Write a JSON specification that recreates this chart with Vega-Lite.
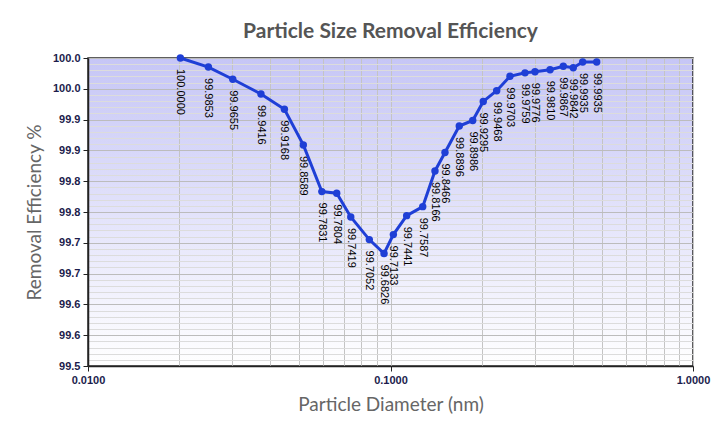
{
  "$schema": "https://vega.github.io/schema/vega-lite/v6.json",
  "width": 605,
  "height": 308,
  "autosize": {"type": "none"},
  "padding": {"left": 88, "top": 58, "right": 24, "bottom": 56},
  "title": {"text": "Particle Size Removal Efficiency", "font": "Lato", "fontSize": 21, "fontWeight": "bold", "color": "#555555", "anchor": "middle", "offset": 10},
  "config": {
    "view": {
      "fill": {"gradient": "linear", "x1": 0, "y1": 0, "x2": 0, "y2": 1, "stops": [{"offset": 0, "color": "#c6c6f6"}, {"offset": 1, "color": "#ffffff"}]},
      "stroke": "#2a2a2a",
      "strokeWidth": 1.5
    },
    "axis": {
      "labelFont": "Liberation Sans",
      "labelFontWeight": "bold",
      "labelFontSize": 11,
      "labelColor": "#1c1c4c",
      "labelFlush": false,
      "tickColor": "#222222",
      "domainColor": "#222222",
      "domainWidth": 1.5,
      "tickSize": 5,
      "titleFont": "Lato",
      "titleFontSize": 19,
      "titleColor": "#666666",
      "titleFontWeight": "normal"
    }
  },
  "data": {
    "values": [
      {"d": 0.0202, "eff": 100.0},
      {"d": 0.025, "eff": 99.9853},
      {"d": 0.0301, "eff": 99.9655},
      {"d": 0.0373, "eff": 99.9416},
      {"d": 0.0446, "eff": 99.9168},
      {"d": 0.0515, "eff": 99.8589},
      {"d": 0.0593, "eff": 99.7831},
      {"d": 0.0664, "eff": 99.7804},
      {"d": 0.0739, "eff": 99.7419},
      {"d": 0.0851, "eff": 99.7052},
      {"d": 0.0952, "eff": 99.6826},
      {"d": 0.1022, "eff": 99.7133},
      {"d": 0.1131, "eff": 99.7441},
      {"d": 0.1278, "eff": 99.7587},
      {"d": 0.1403, "eff": 99.8166},
      {"d": 0.1514, "eff": 99.8466},
      {"d": 0.1688, "eff": 99.8896},
      {"d": 0.187, "eff": 99.8986},
      {"d": 0.2026, "eff": 99.9295},
      {"d": 0.2244, "eff": 99.9468},
      {"d": 0.2483, "eff": 99.9703},
      {"d": 0.2784, "eff": 99.9759},
      {"d": 0.3004, "eff": 99.9776},
      {"d": 0.3369, "eff": 99.981},
      {"d": 0.3726, "eff": 99.9867},
      {"d": 0.402, "eff": 99.9842},
      {"d": 0.4318, "eff": 99.9935},
      {"d": 0.4805, "eff": 99.9935}
    ]
  },
  "layer": [
    {
      "mark": {"type": "text", "angle": 90, "align": "left", "baseline": "middle", "dx": 11, "font": "Liberation Sans", "fontSize": 11, "color": "#000000"},
      "encoding": {
        "x": {"field": "d", "type": "quantitative", "scale": {"type": "log", "domain": [0.01, 1], "nice": false},
          "axis": {"orient": "bottom", "values": [0.01, 0.02, 0.03, 0.04, 0.05, 0.06, 0.07, 0.08, 0.09, 0.1, 0.2, 0.3, 0.4, 0.5, 0.6, 0.7, 0.8, 0.9, 1], "labels": false, "ticks": false, "domain": false, "grid": true, "gridColor": "#c4c4c4", "gridWidth": 1, "title": null}},
        "y": {"field": "eff", "type": "quantitative", "scale": {"domain": [99.5, 100], "nice": false, "zero": false},
          "axis": {"orient": "left", "values": [99.5, 99.51, 99.52, 99.53, 99.54, 99.55, 99.56, 99.57, 99.58, 99.59, 99.6, 99.61, 99.62, 99.63, 99.64, 99.65, 99.66, 99.67, 99.68, 99.69, 99.7, 99.71, 99.72, 99.73, 99.74, 99.75, 99.76, 99.77, 99.78, 99.79, 99.8, 99.81, 99.82, 99.83, 99.84, 99.85, 99.86, 99.87, 99.88, 99.89, 99.9, 99.91, 99.92, 99.93, 99.94, 99.95, 99.96, 99.97, 99.98, 99.99, 100], "labels": false, "ticks": false, "domain": false, "grid": true, "gridColor": "#dcdcdc", "gridWidth": 1, "title": null}},
        "text": {"field": "eff", "type": "quantitative", "format": ".4f"}
      }
    },
    {
      "mark": {"type": "line", "color": "#1f3fd6", "strokeWidth": 3, "point": {"filled": true, "size": 55, "color": "#1f3fd6"}},
      "encoding": {
        "x": {"field": "d", "type": "quantitative",
          "axis": {"orient": "bottom", "values": [0.01, 0.1, 1], "format": ".4f", "grid": false, "labelPadding": 3, "titlePadding": 10, "title": "Particle Diameter (nm)"}},
        "y": {"field": "eff", "type": "quantitative",
          "axis": {"orient": "left", "values": [99.5, 99.55, 99.6, 99.65, 99.7, 99.75, 99.8, 99.85, 99.9, 99.95, 100], "labelExpr": "format(floor(datum.value*10+0.5+0.000001)/10, '.1f')", "grid": true, "gridColor": "#bcbcbc", "gridWidth": 1, "labelPadding": 3, "titlePadding": 8, "title": "Removal Efficiency %"}}
      }
    }
  ],
  "resolve": {"axis": {"x": "independent", "y": "independent"}}
}
